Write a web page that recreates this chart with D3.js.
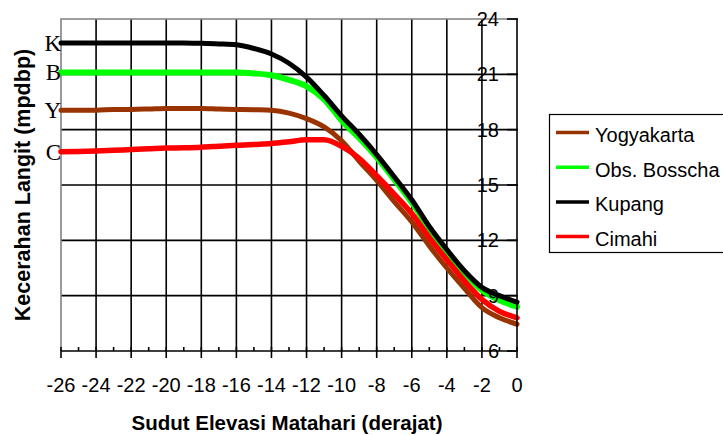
<!DOCTYPE html>
<html>
<head>
<meta charset="utf-8">
<script src="https://cdn.jsdelivr.net/npm/d3@7.9.0/dist/d3.min.js"></script>
<style>
  body { margin: 0; background: #fff; overflow: hidden; }
  svg { display: block; }
  text { font-family: Arial, "Liberation Sans", sans-serif; fill: #000; }
</style>
</head>
<body>
<script>
// Elevation of the sun (degrees) and sky brightness per site
const elevation = d3.range(-26, 1, 1);
const yogyakarta = [19.05, 19.05, 19.05, 19.1, 19.1, 19.12, 19.15, 19.15, 19.15, 19.12, 19.1, 19.08, 19.05,
  18.9, 18.6, 18.15, 17.4, 16.3, 15.25, 14.1, 13.0, 11.7, 10.5, 9.4, 8.35, 7.8, 7.45];
const bosscha = [21.1, 21.1, 21.1, 21.1, 21.1, 21.1, 21.1, 21.1, 21.1, 21.1, 21.1, 21.05, 20.95,
  20.7, 20.35, 19.65, 18.5, 17.55, 16.5, 15.3, 14.05, 12.65, 11.4, 10.25, 9.3, 8.75, 8.4];
const kupang = [22.7, 22.7, 22.7, 22.7, 22.7, 22.7, 22.7, 22.7, 22.68, 22.65, 22.6, 22.4, 22.1,
  21.6, 20.85, 19.85, 18.75, 17.75, 16.65, 15.45, 14.2, 12.75, 11.5, 10.35, 9.45, 9.0, 8.65];
const cimahi = [16.8, 16.82, 16.85, 16.88, 16.92, 16.96, 17.0, 17.02, 17.05, 17.1, 17.15, 17.2, 17.25,
  17.35, 17.45, 17.45, 17.1, 16.45, 15.5, 14.5, 13.45, 12.15, 10.95, 9.8, 8.8, 8.15, 7.8];

const seriesNames = ["Yogyakarta", "Obs. Bosscha", "Kupang", "Cimahi"];
const seriesColors = ["#993300", "#00ff00", "#000000", "#ff0000"];
const seriesWidths = [5, 6, 5, 5.5];
const seriesValues = [yogyakarta, bosscha, kupang, cimahi];

const xTicks = d3.range(-26, 1, 2);
const yTicks = [6, 9, 12, 15, 18, 21, 24];
const sideLetters = [["K", 22.7], ["B", 21.1], ["Y", 19.05], ["C", 16.8]];

const width = 723, height = 435;
const x = d3.scaleLinear().domain([-26, 0]).range([61, 517]);
const y = d3.scaleLinear().domain([6, 24]).range([351, 19]);

const svg = d3.select("body").append("svg")
    .attr("width", width)
    .attr("height", height);

// Grid lines
svg.append("g").selectAll("line")
    .data(xTicks.slice(1, -1))
    .enter().append("line")
    .attr("x1", d => x(d)).attr("x2", d => x(d))
    .attr("y1", y(24)).attr("y2", y(6))
    .attr("stroke", "#000").attr("stroke-width", 1.6);

svg.append("g").selectAll("line")
    .data(yTicks.slice(1, -1))
    .enter().append("line")
    .attr("x1", x(-26)).attr("x2", x(0))
    .attr("y1", d => y(d)).attr("y2", d => y(d))
    .attr("stroke", "#000").attr("stroke-width", 1.6);

// Plot area border (top and left in gray)
svg.append("path")
    .attr("d", `M${x(-26)},${y(6)}V${y(24)}H${x(0)}`)
    .attr("fill", "none")
    .attr("stroke", "#808080")
    .attr("stroke-width", 1.6);

// Bottom axis with crossing major ticks and small minor ticks
const bottom = svg.append("g");
bottom.append("line")
    .attr("x1", x(-26)).attr("x2", x(0))
    .attr("y1", y(6)).attr("y2", y(6))
    .attr("stroke", "#000").attr("stroke-width", 1.6);
bottom.selectAll(".major")
    .data(xTicks)
    .enter().append("line")
    .attr("x1", d => x(d)).attr("x2", d => x(d))
    .attr("y1", y(6) - 4).attr("y2", y(6) + 7)
    .attr("stroke", "#000").attr("stroke-width", 1.6);
bottom.selectAll(".minor")
    .data(d3.range(-25, 0, 2))
    .enter().append("line")
    .attr("x1", d => x(d)).attr("x2", d => x(d))
    .attr("y1", y(6) - 4).attr("y2", y(6))
    .attr("stroke", "#000").attr("stroke-width", 1.6);
bottom.selectAll("text")
    .data(xTicks)
    .enter().append("text")
    .attr("x", d => x(d))
    .attr("y", 392)
    .attr("text-anchor", "middle")
    .style("font-size", "20px")
    .text(d => d);

// Series lines
const line = d3.line()
    .x((d, i) => x(elevation[i]))
    .y(d => y(d))
    .curve(d3.curveMonotoneX);

svg.append("g").selectAll("path")
    .data(seriesValues)
    .enter().append("path")
    .attr("d", d => line(d))
    .attr("fill", "none")
    .attr("stroke", (d, i) => seriesColors[i])
    .attr("stroke-width", (d, i) => seriesWidths[i])
    .attr("stroke-linejoin", "round")
    .attr("stroke-linecap", "round");

// Right axis (value axis) with labels inside the plot
const right = svg.append("g");
right.append("line")
    .attr("x1", x(0)).attr("x2", x(0))
    .attr("y1", y(24)).attr("y2", y(6))
    .attr("stroke", "#000").attr("stroke-width", 1.6);
right.selectAll("line.tick")
    .data(yTicks)
    .enter().append("line")
    .attr("x1", x(0) - 10).attr("x2", x(0) + 1)
    .attr("y1", d => y(d)).attr("y2", d => y(d))
    .attr("stroke", "#000").attr("stroke-width", 1.6);
right.selectAll("text")
    .data(yTicks)
    .enter().append("text")
    .attr("x", 499)
    .attr("y", d => y(d) + 7)
    .attr("text-anchor", "end")
    .style("font-size", "20px")
    .text(d => d);

// Site letters to the left of the plot
svg.append("g").selectAll("text")
    .data(sideLetters)
    .enter().append("text")
    .attr("x", 61)
    .attr("y", d => y(d[1]) + 8)
    .attr("text-anchor", "end")
    .style("font-family", "'Liberation Serif', 'Times New Roman', serif")
    .style("font-size", "23px")
    .text(d => d[0]);

// Axis titles
svg.append("text")
    .attr("x", 287)
    .attr("y", 430)
    .attr("text-anchor", "middle")
    .style("font-size", "20.5px")
    .style("font-weight", "bold")
    .text("Sudut Elevasi Matahari (derajat)");

svg.append("text")
    .attr("transform", "translate(30,185) rotate(-90)")
    .attr("text-anchor", "middle")
    .style("font-size", "21.5px")
    .style("font-weight", "bold")
    .text("Kecerahan Langit (mpdbp)");

// Legend
const legend = svg.append("g");
legend.append("rect")
    .attr("x", 549.5).attr("y", 114.5)
    .attr("width", 200).attr("height", 138)
    .attr("fill", "#fff")
    .attr("stroke", "#000").attr("stroke-width", 1.2);
const items = legend.selectAll("g.item")
    .data(seriesNames)
    .enter().append("g")
    .attr("transform", (d, i) => `translate(0,${132.5 + i * 34.7})`);
items.append("line")
    .attr("x1", 556).attr("x2", 589)
    .attr("stroke", (d, i) => seriesColors[i])
    .attr("stroke-width", 3.5);
items.append("text")
    .attr("x", 595)
    .attr("y", 9.5)
    .style("font-size", "20px")
    .text(d => d);
</script>
</body>
</html>
